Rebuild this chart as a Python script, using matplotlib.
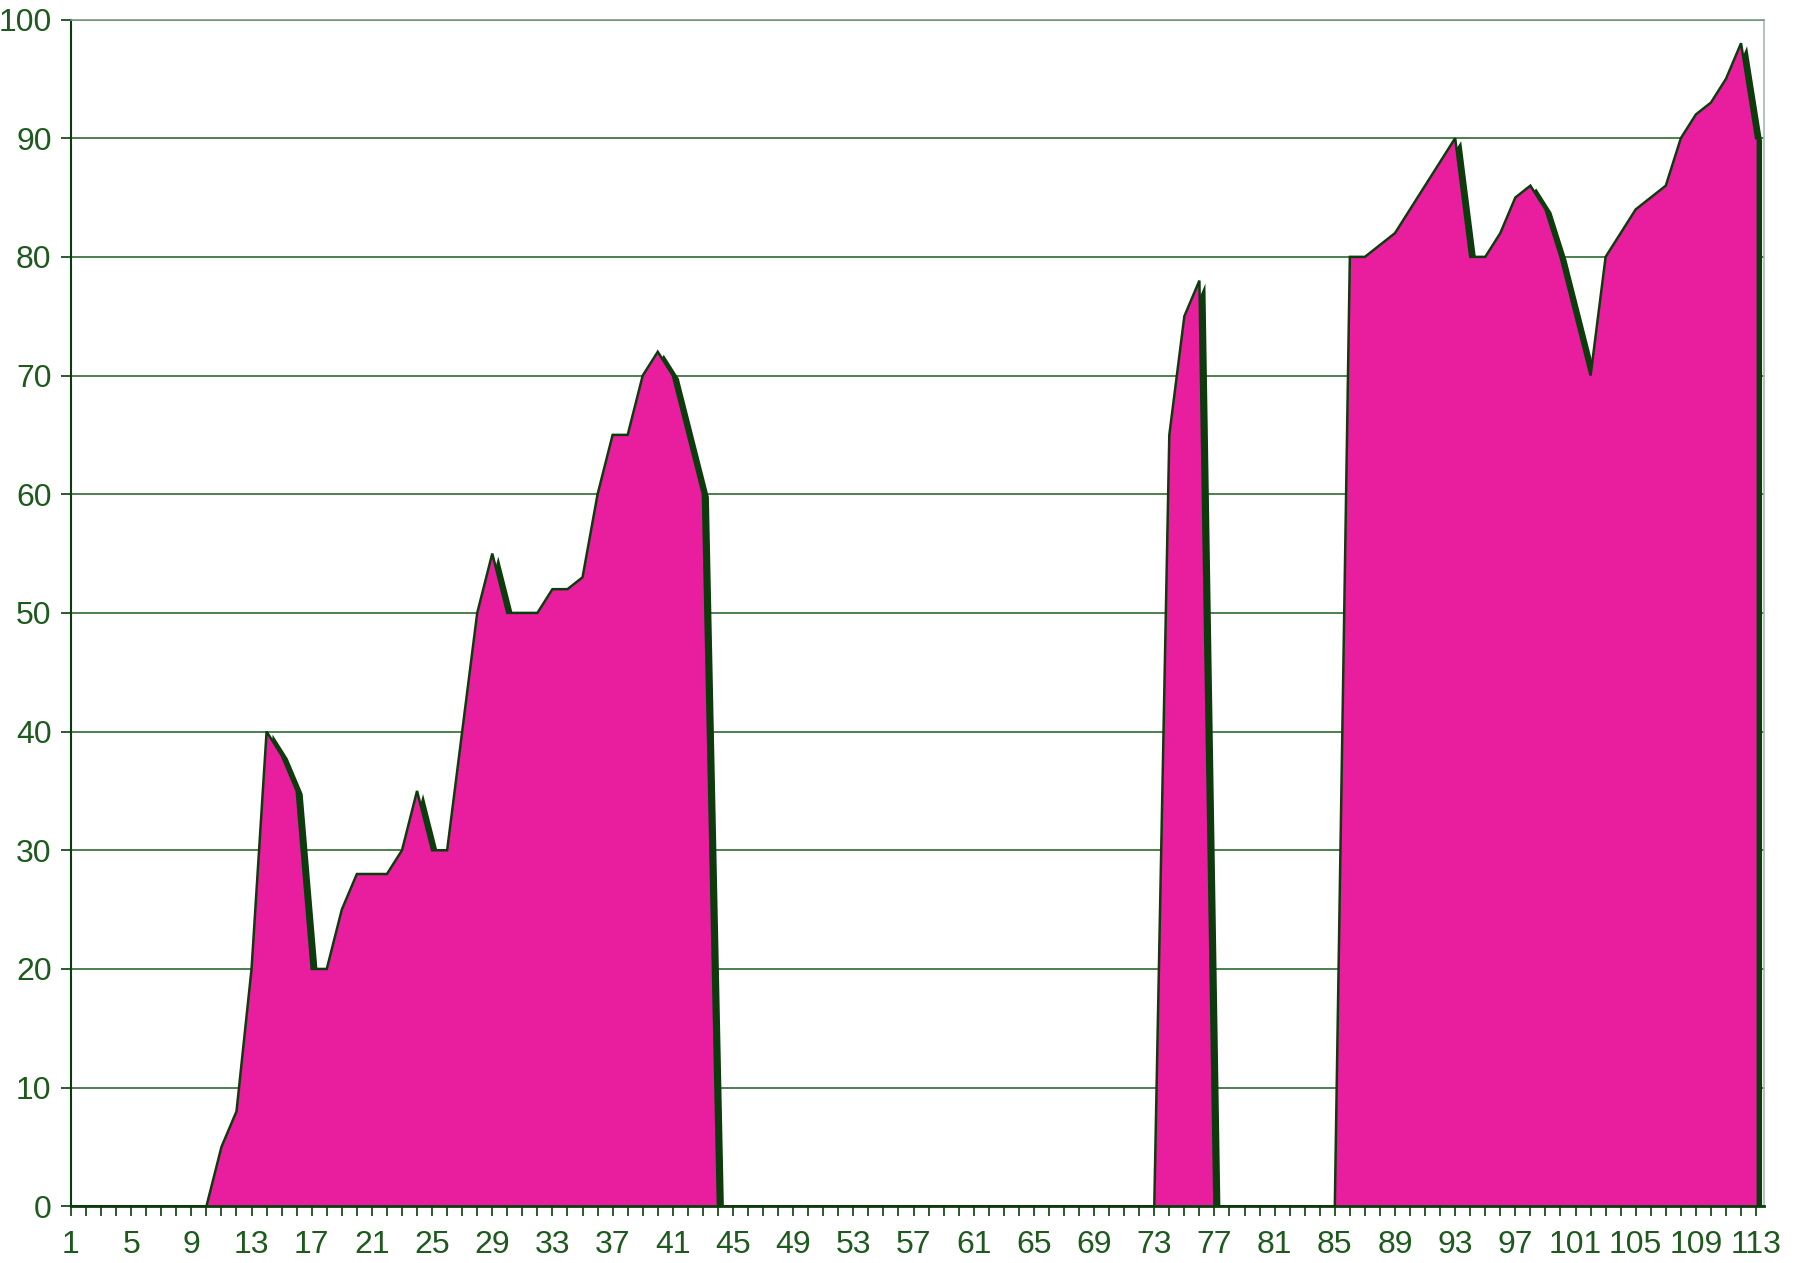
import matplotlib
matplotlib.use("Agg")
import matplotlib.pyplot as plt
import matplotlib.transforms as mtransforms
from matplotlib.ticker import FixedLocator

categories = list(range(1, 114))
values = [
    0, 0, 0, 0, 0, 0, 0, 0, 0, 0,            # 1-10
    5, 8, 20, 40, 38, 35, 20, 20, 25, 28,    # 11-20
    28, 28, 30, 35, 30, 30, 40, 50, 55, 50,  # 21-30
    50, 50, 52, 52, 53, 60, 65, 65, 70, 72,  # 31-40
    70, 65, 60, 0, 0, 0, 0, 0, 0, 0,         # 41-50
    0, 0, 0, 0, 0, 0, 0, 0, 0, 0,            # 51-60
    0, 0, 0, 0, 0, 0, 0, 0, 0, 0,            # 61-70
    0, 0, 0, 65, 75, 78, 0, 0, 0, 0,         # 71-80
    0, 0, 0, 0, 0, 80, 80, 81, 82, 84,       # 81-90
    86, 88, 90, 80, 80, 82, 85, 86, 84, 80,  # 91-100
    75, 70, 80, 82, 84, 85, 86, 90, 92, 93,  # 101-110
    95, 98, 90,                              # 111-113
]
x_tick_positions = list(range(1, 114, 4))
x_tick_labels = [str(v) for v in x_tick_positions]
y_ticks = [0, 10, 20, 30, 40, 50, 60, 70, 80, 90, 100]

PINK = "#E81E9F"
DARK = "#0C3C0C"
GRID = "#2F6A2F"
TXT = "#1E5A1E"

fig = plt.figure(figsize=(17.98, 12.63), dpi=100)
ax = fig.add_axes([71 / 1798, 1 - 1206.3 / 1263, (1763.6 - 71) / 1798, (1206.3 - 19.5) / 1263])

# shadow (offset copy)
shadow_tr = mtransforms.offset_copy(ax.transData, fig=fig, x=5.5, y=-2.5, units="dots")
ax.fill_between(categories, values, 0, color=DARK, lw=0, zorder=2, transform=shadow_tr)
ax.fill_between(categories, values, 0, color=PINK, lw=0, zorder=3)
ax.plot(categories, values, color=DARK, lw=1.8, zorder=4, solid_joinstyle="miter")

ax.set_xlim(1, 113.5)
ax.set_ylim(0, 100)

ax.set_yticks(y_ticks)
ax.yaxis.grid(True, color=GRID, lw=1.2)
ax.set_axisbelow(True)

ax.xaxis.set_major_locator(FixedLocator(x_tick_positions))
ax.set_xticklabels(x_tick_labels)
ax.xaxis.set_minor_locator(FixedLocator(categories))

fam = ["Liberation Sans Narrow", "Liberation Sans", "DejaVu Sans"]
ax.tick_params(axis="x", which="both", direction="out", length=7, width=1.2, color=DARK)
ax.tick_params(axis="x", which="major", pad=10, labelsize=23, labelcolor=TXT)
ax.tick_params(axis="y", which="major", direction="out", length=7, width=1.2, color=DARK,
               pad=7, labelsize=23, labelcolor=TXT)
for lab in ax.get_xticklabels() + ax.get_yticklabels():
    lab.set_family(fam)

ax.spines["left"].set_color(DARK)
ax.spines["left"].set_linewidth(1.5)
ax.spines["bottom"].set_color(DARK)
ax.spines["bottom"].set_linewidth(2)
ax.spines["bottom"].set_zorder(5)
ax.spines["top"].set_color("#7E9A86")
ax.spines["top"].set_linewidth(1.2)
ax.spines["right"].set_color("#A9B8B0")
ax.spines["right"].set_linewidth(1.2)

fig.savefig("out.png", dpi=100, facecolor="white")
